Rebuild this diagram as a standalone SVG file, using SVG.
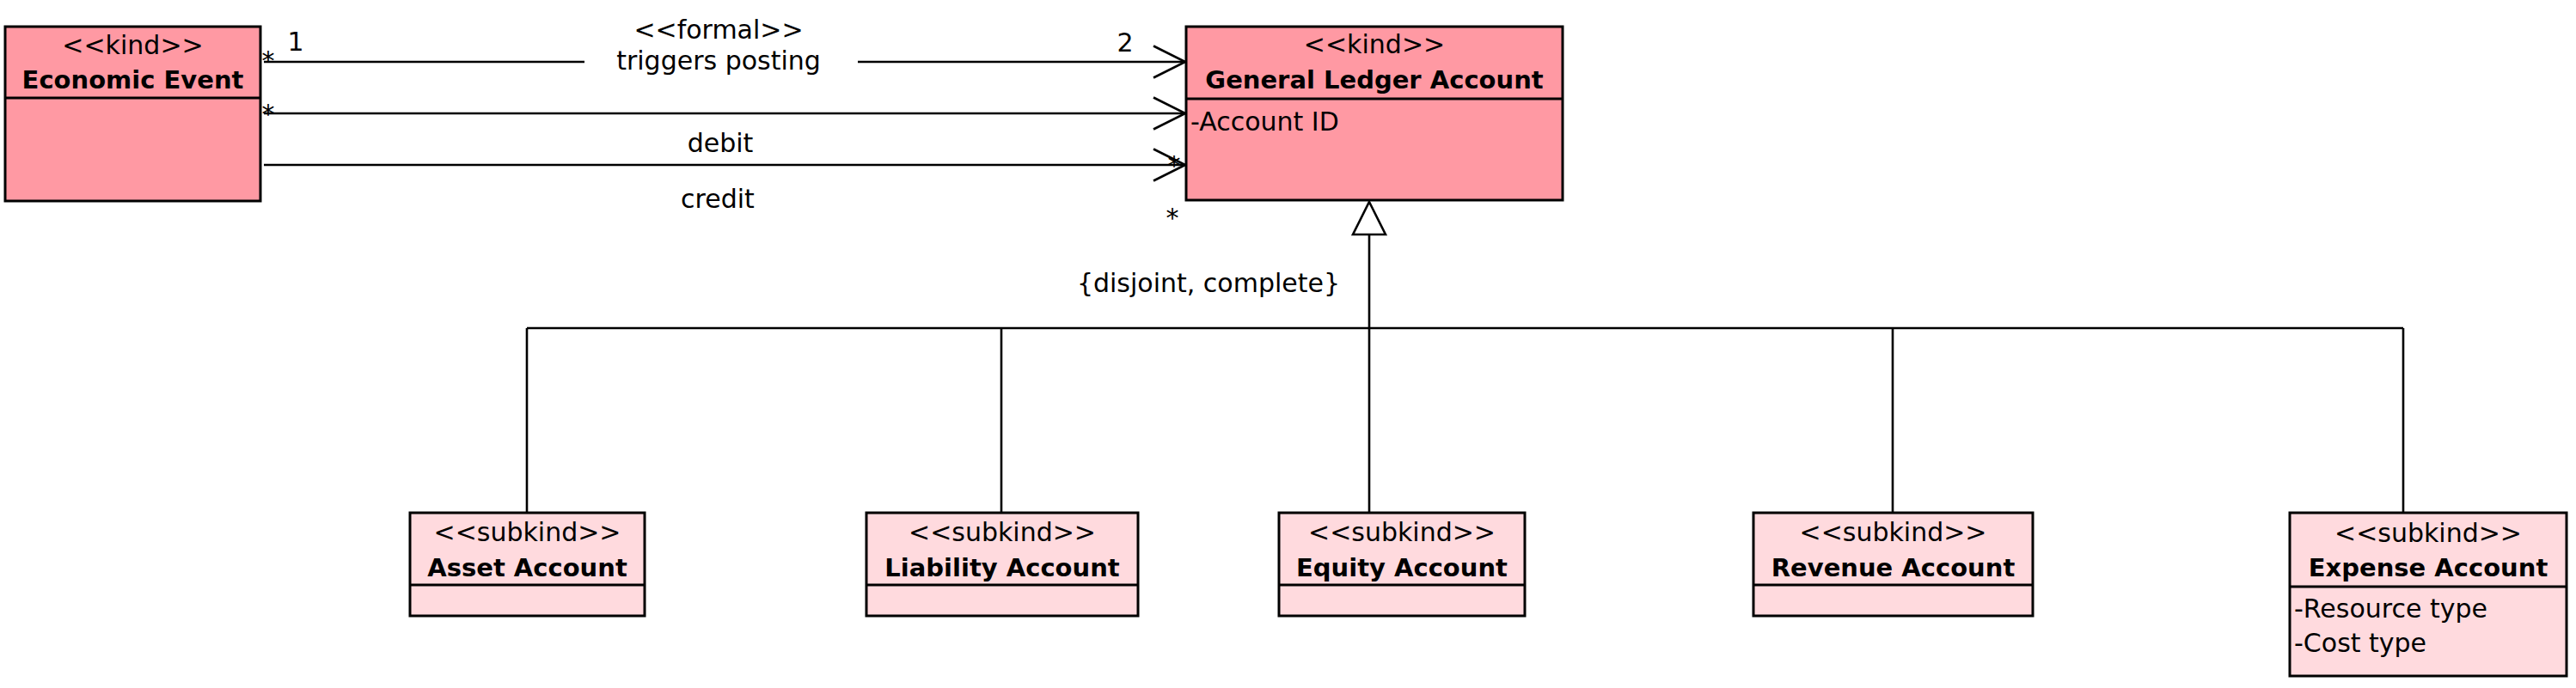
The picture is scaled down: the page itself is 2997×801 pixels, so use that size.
<svg xmlns="http://www.w3.org/2000/svg" width="2997" height="801" viewBox="0 0 2997 801">
<defs>
<style>
.box{stroke:#000;stroke-width:3}
.kind{fill:#FF99A3}
.sub{fill:#FFDADE}
.t{font-family:"DejaVu Sans","Liberation Sans",sans-serif;font-size:30px;fill:#000}
.b{font-family:"DejaVu Sans","Liberation Sans",sans-serif;font-size:29px;font-weight:bold;fill:#000}
.c{text-anchor:middle}
.ln{fill:none;stroke:#000;stroke-width:2.6}
</style>
<marker id="open" markerUnits="userSpaceOnUse" markerWidth="42" markerHeight="42" viewBox="0 0 42 42" refX="39" refY="20" orient="auto">
<path d="M2,1.5 L39,20 L2,38.5" fill="none" stroke="#000" stroke-width="2.6"/>
</marker>
</defs>
<rect width="2997" height="801" fill="#fff"/>

<g id="connectors">
<path class="ln" d="M307 72 H680 M998 72 H1379" marker-end="url(#open)"/>
<path class="ln" d="M307 132 H1379" marker-end="url(#open)"/>
<path class="ln" d="M307 192 H1379" marker-end="url(#open)"/>
<g id="gen">
<polygon points="1593,235 1612,273 1574,273" fill="#fff" stroke="#000" stroke-width="2.6"/>
<path class="ln" d="M1593 273 V597 M613 382 H2796 M613 382 V597 M1165 382 V597 M2202 382 V597 M2796 382 V597"/>
</g>
<text class="t c" x="836" y="45">&lt;&lt;formal&gt;&gt;</text>
<text class="t c" x="836" y="81">triggers posting</text>
<text class="t c" x="838" y="177">debit</text>
<text class="t c" x="835" y="242">credit</text>
<text class="t c" x="344" y="59">1</text>
<text class="t c" x="1309" y="60">2</text>
<text class="t c" x="312" y="81">*</text>
<text class="t c" x="312" y="143">*</text>
<text class="t c" x="1366" y="203">*</text>
<text class="t c" x="1364" y="264">*</text>
<text class="t c" x="1406" y="340">{disjoint, complete}</text>
</g>

<g id="economic-event">
<rect class="box kind" x="6" y="31" width="297" height="203"/>
<line class="box" x1="6" y1="114" x2="303" y2="114"/>
<text class="t c" x="154.5" y="63">&lt;&lt;kind&gt;&gt;</text>
<text class="b c" x="154.5" y="103">Economic Event</text>
</g>

<g id="general-ledger-account">
<rect class="box kind" x="1380" y="31" width="438" height="202"/>
<line class="box" x1="1380" y1="115" x2="1818" y2="115"/>
<text class="t c" x="1599" y="62">&lt;&lt;kind&gt;&gt;</text>
<text class="b c" x="1599" y="103">General Ledger Account</text>
<text class="t" x="1385" y="152">-Account ID</text>
</g>

<g id="asset-account">
<rect class="box sub" x="477" y="597" width="273" height="120"/>
<line class="box" x1="477" y1="681" x2="750" y2="681"/>
<text class="t c" x="613.5" y="630">&lt;&lt;subkind&gt;&gt;</text>
<text class="b c" x="613.5" y="671">Asset Account</text>
</g>

<g id="liability-account">
<rect class="box sub" x="1008" y="597" width="316" height="120"/>
<line class="box" x1="1008" y1="681" x2="1324" y2="681"/>
<text class="t c" x="1166" y="630">&lt;&lt;subkind&gt;&gt;</text>
<text class="b c" x="1166" y="671">Liability Account</text>
</g>

<g id="equity-account">
<rect class="box sub" x="1488" y="597" width="286" height="120"/>
<line class="box" x1="1488" y1="681" x2="1774" y2="681"/>
<text class="t c" x="1631" y="630">&lt;&lt;subkind&gt;&gt;</text>
<text class="b c" x="1631" y="671">Equity Account</text>
</g>

<g id="revenue-account">
<rect class="box sub" x="2040" y="597" width="325" height="120"/>
<line class="box" x1="2040" y1="681" x2="2365" y2="681"/>
<text class="t c" x="2202.5" y="630">&lt;&lt;subkind&gt;&gt;</text>
<text class="b c" x="2202.5" y="671">Revenue Account</text>
</g>

<g id="expense-account">
<rect class="box sub" x="2664" y="597" width="322" height="190"/>
<line class="box" x1="2664" y1="683" x2="2986" y2="683"/>
<text class="t c" x="2825" y="631">&lt;&lt;subkind&gt;&gt;</text>
<text class="b c" x="2825" y="671">Expense Account</text>
<text class="t" x="2669" y="719">-Resource type</text>
<text class="t" x="2669" y="759">-Cost type</text>
</g>
</svg>
